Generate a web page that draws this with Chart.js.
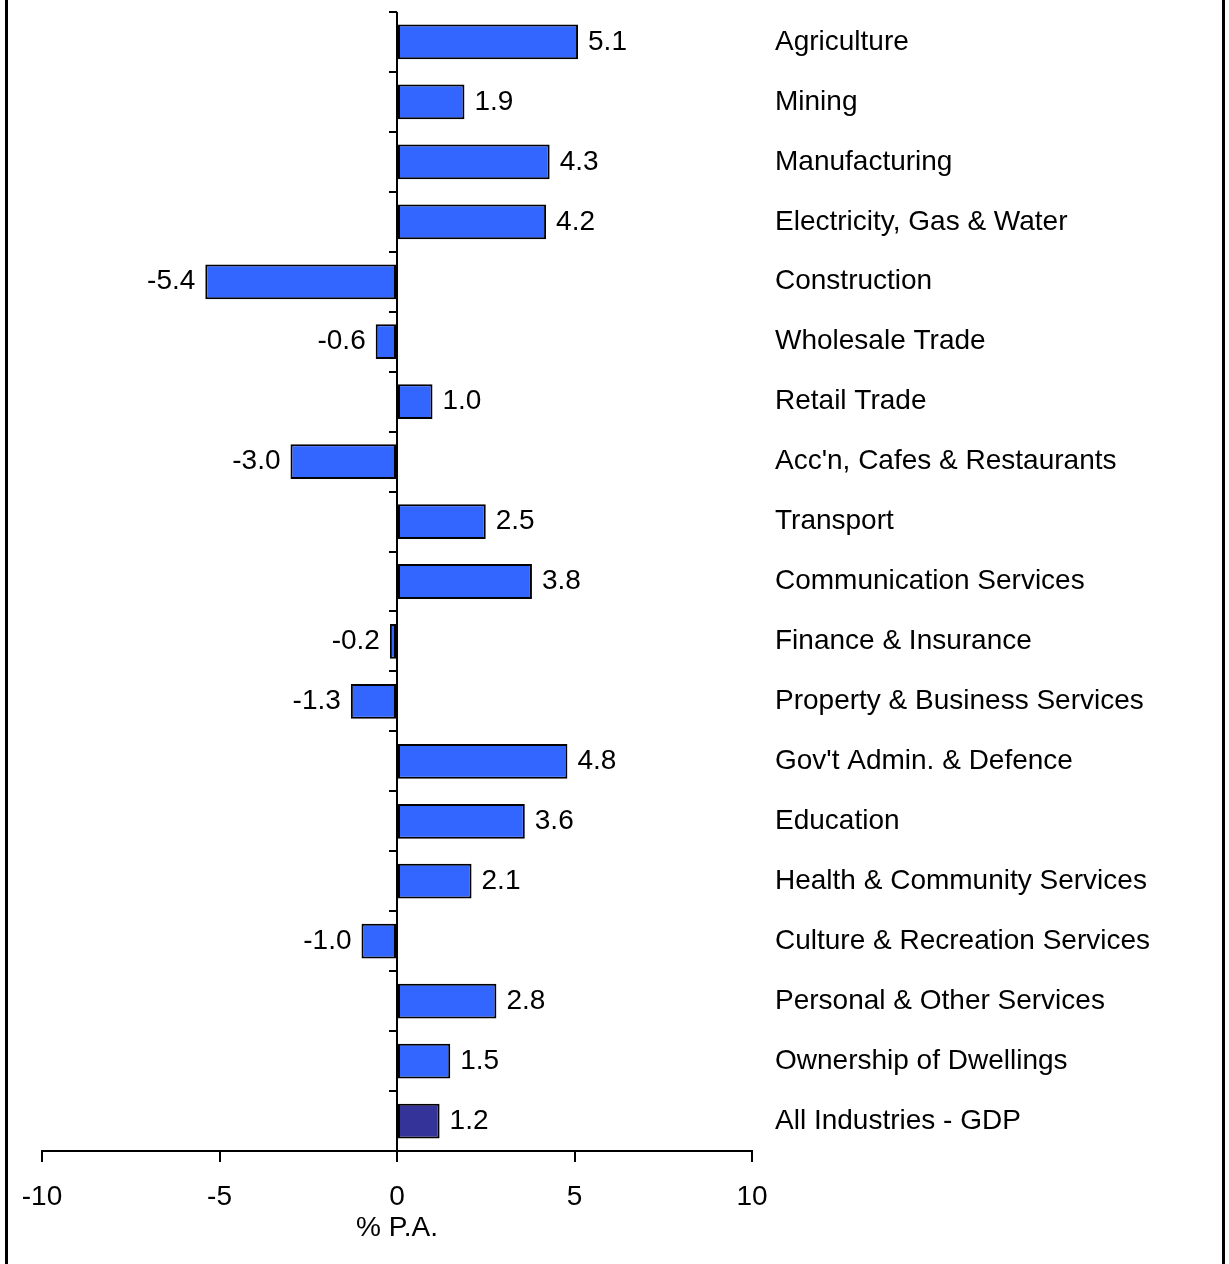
<!DOCTYPE html>
<html lang="en">
<head>
  <meta charset="UTF-8" />
  <title>Industry growth</title>
  <script src="https://cdn.jsdelivr.net/npm/chart.js"></script>
  <style>
    html, body { margin: 0; padding: 0; background: #fff; }
    .wrap { width: 1229px; height: 1264px; }
  </style>
</head>
<body>
  <div class="wrap"><canvas id="chart-industries" width="1229" height="1264"></canvas></div>

  <script>
    const industries = [
      "Agriculture", "Mining", "Manufacturing", "Electricity, Gas & Water",
      "Construction", "Wholesale Trade", "Retail Trade", "Acc'n, Cafes & Restaurants",
      "Transport", "Communication Services", "Finance & Insurance",
      "Property & Business Services", "Gov't Admin. & Defence", "Education",
      "Health & Community Services", "Culture & Recreation Services",
      "Personal & Other Services", "Ownership of Dwellings", "All Industries - GDP"
    ];
    const growth = [5.1, 1.9, 4.3, 4.2, -5.4, -0.6, 1.0, -3.0, 2.5, 3.8, -0.2, -1.3, 4.8, 3.6, 2.1, -1.0, 2.8, 1.5, 1.2];
    const xTicks = [-10, -5, 0, 5, 10];
    const axisTitle = "% P.A.";

    const police = "'Liberation Sans', Arial, sans-serif";
    const couleurs = industries.map((n, i) => i === industries.length - 1 ? "#333399" : "#3366FF");

    // cadre vertical gauche / droite
    const cadre = {
      id: "cadre",
      afterDraw(chart) {
        const ctx = chart.ctx;
        ctx.save();
        ctx.fillStyle = "#000";
        ctx.fillRect(5, 0, 3, chart.height);
        ctx.fillRect(1222, 0, 3, chart.height);
        ctx.restore();
      }
    };

    // axe zéro avec petites graduations entre les catégories
    const axeZero = {
      id: "axeZero",
      afterDatasetsDraw(chart) {
        const ctx = chart.ctx;
        const x0 = chart.scales.x.getPixelForValue(0);
        const area = chart.chartArea;
        const pas = (area.bottom - area.top) / industries.length;
        ctx.save();
        ctx.strokeStyle = "#000";
        ctx.lineWidth = 2;
        ctx.beginPath();
        ctx.moveTo(x0, area.top);
        ctx.lineTo(x0, area.bottom);
        for (let i = 0; i <= industries.length; i++) {
          const y = Math.round(area.top + i * pas);
          ctx.moveTo(x0 - 8, y);
          ctx.lineTo(x0, y);
        }
        ctx.stroke();
        ctx.restore();
      }
    };

    // valeurs au bout des barres
    const valeurs = {
      id: "valeurs",
      afterDatasetsDraw(chart) {
        const ctx = chart.ctx;
        const meta = chart.getDatasetMeta(0);
        ctx.save();
        ctx.font = "28px " + police;
        ctx.fillStyle = "#000";
        ctx.textBaseline = "middle";
        meta.data.forEach((bar, i) => {
          const v = growth[i];
          if (v >= 0) {
            ctx.textAlign = "left";
            ctx.fillText(v.toFixed(1), bar.x + 10, bar.y);
          } else {
            ctx.textAlign = "right";
            ctx.fillText(v.toFixed(1), bar.x - 10, bar.y);
          }
        });
        ctx.restore();
      }
    };

    const ctx = document.getElementById("chart-industries").getContext("2d");
    new Chart(ctx, {
      type: "bar",
      data: {
        labels: industries,
        datasets: [{
          data: growth,
          backgroundColor: couleurs,
          borderColor: "#000",
          borderWidth: 2,
          borderSkipped: false,
          barPercentage: 0.58,
          categoryPercentage: 1
        }]
      },
      options: {
        indexAxis: "y",
        responsive: false,
        animation: false,
        layout: { padding: { left: 42, top: 12, right: 0, bottom: 0 } },
        plugins: {
          legend: { display: false },
          tooltip: { enabled: false }
        },
        scales: {
          x: {
            min: -10,
            max: 10,
            afterBuildTicks: (scale) => { scale.ticks = xTicks.map(v => ({ value: v })); },
            afterFit: (scale) => { scale.height = 113; },
            border: { display: true, color: "#000", width: 2 },
            grid: { display: true, drawOnChartArea: false, drawTicks: true, tickLength: 11, color: "#000", lineWidth: 2 },
            ticks: { color: "#000", font: { family: police, size: 28 }, padding: 18, maxRotation: 0 },
            title: { display: true, text: axisTitle, color: "#000", font: { family: police, size: 28 }, padding: { top: 0, bottom: 19 } }
          },
          y: {
            position: "right",
            afterFit: (scale) => {
              scale.width = 477;
              scale.paddingTop = 0;
              scale.paddingBottom = 0;
            },
            border: { display: false },
            grid: { display: false, drawTicks: false },
            ticks: { color: "#000", font: { family: police, size: 28 }, padding: 23, crossAlign: "near" }
          }
        }
      },
      plugins: [cadre, axeZero, valeurs]
    });
  </script>
</body>
</html>
